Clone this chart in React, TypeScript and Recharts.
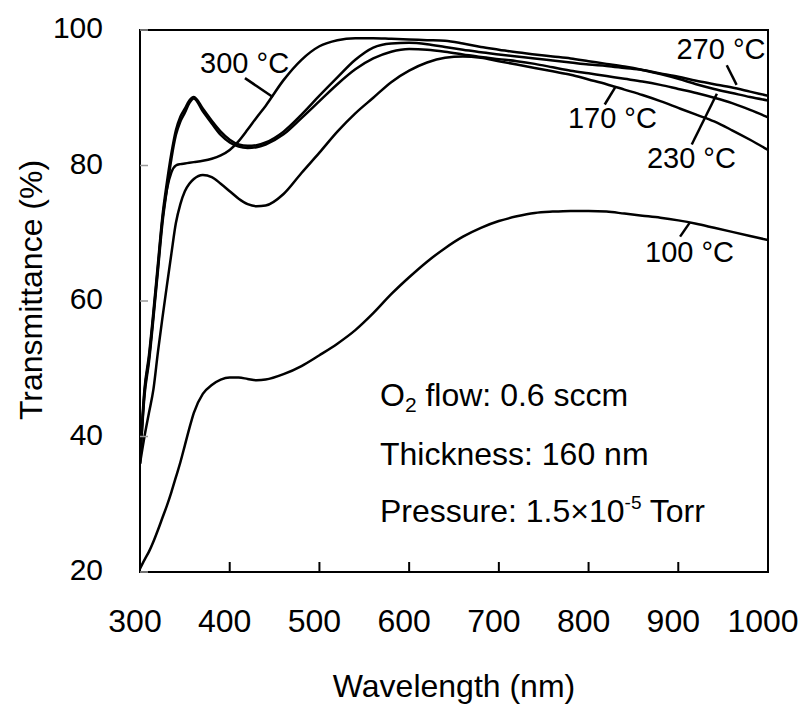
import React from 'react';
import {
  LineChart,
  Line,
  XAxis,
  YAxis,
  ReferenceArea,
  ReferenceLine,
  ReferenceDot
} from 'recharts';

const FONT = '"Liberation Sans", Arial, Helvetica, sans-serif';

// wavelength grid (nm)
const wavelengths = [
  300, 305, 310, 315, 320, 325, 330, 335, 340, 345, 350, 355, 360,
  370, 380, 390, 400, 410, 420, 430, 440,
  460, 480, 500, 520, 540, 560, 580, 600, 620, 640, 660, 680, 700, 720, 740,
  760, 780, 800, 820, 840, 860, 880, 900, 920, 940, 960, 980, 1000
];

// transmittance (%) for each substrate temperature
const t100 = [
  20.5, 21.8, 23.0, 24.5, 26.2, 28.0, 29.8, 31.8, 34.0, 36.2, 38.7, 41.2, 43.5,
  46.3, 47.6, 48.4, 48.7, 48.7, 48.5, 48.3, 48.4,
  49.2, 50.4, 52.0, 53.7, 55.7, 58.2, 61.0, 63.5, 65.8, 67.8, 69.5, 70.8, 71.8, 72.5, 73.0,
  73.2, 73.3, 73.3, 73.2, 72.9, 72.6, 72.3, 71.9, 71.4, 70.8, 70.2, 69.6, 69.0
];
const t170 = [
  36.0, 40.0, 43.5, 47.0, 52.5, 57.5, 62.3, 67.0, 71.5, 74.3, 76.2, 77.3, 78.0,
  78.6, 78.3, 77.3, 76.2, 75.1, 74.3, 74.0, 74.1,
  75.8, 78.9, 81.9, 85.0, 87.7, 90.0, 92.3, 94.0, 95.2, 95.9, 96.1, 95.9, 95.4, 94.9, 94.4,
  93.9, 93.4, 92.7, 92.0, 91.2, 90.4, 89.5, 88.5, 87.5, 86.5, 85.2, 83.8, 82.3
];
const t230 = [
  36.0, 46.0, 51.0, 57.5, 64.5, 71.5, 76.5, 81.0, 84.5, 86.5, 87.8, 89.2, 89.9,
  88.0, 86.2, 84.5, 83.4, 82.8, 82.6, 82.7, 83.1,
  84.6, 87.0, 89.5, 92.0, 94.2, 95.8, 96.8, 97.2, 97.1, 96.8, 96.4, 96.0, 95.7, 95.4, 95.0,
  94.5, 94.0, 93.6, 93.2, 92.8, 92.4, 91.9, 91.3, 90.7, 90.0, 89.2, 88.2, 87.1
];
const t270 = [
  37.0, 47.0, 52.0, 58.5, 65.5, 72.5, 77.5, 81.8, 85.2, 87.2, 88.4, 89.6, 90.1,
  88.4, 86.6, 85.0, 83.8, 83.1, 82.9, 83.0, 83.4,
  85.0, 87.5, 90.3, 93.0, 95.6, 97.4, 98.0, 98.1, 97.9, 97.5, 97.1, 96.7, 96.4, 96.1, 95.8,
  95.5, 95.2, 94.9, 94.7, 94.4, 94.1, 93.6, 93.1, 92.5, 92.0, 91.5, 90.9, 90.3
];
const t300 = [
  36.0, 46.5, 51.5, 58.0, 65.0, 72.0, 76.5, 79.0, 80.0, 80.2, 80.3, 80.4, 80.5,
  80.7, 81.0, 81.5, 82.3, 83.6, 85.3, 87.1, 88.8,
  92.6, 95.6, 97.6, 98.5, 98.8, 98.8, 98.7, 98.6, 98.5, 98.4, 98.0, 97.5, 97.1, 96.7, 96.4,
  96.1, 95.8, 95.4, 95.0, 94.6, 94.1, 93.5, 92.8, 92.0, 91.3, 90.7, 90.1, 89.6
];

const xTicks = [300, 400, 500, 600, 700, 800, 900, 1000];
const yTicks = [20, 40, 60, 80, 100];

const seriesKeys = ['t100', 't170', 't230', 't270', 't300'];

// series labels: text anchor (wl, T) and leader line from -> to
const curveLabels = [
  { text: '300 °C', x: 367, y: 93.7, from: [417, 92.9], to: [448, 90.1] },
  { text: '270 °C', x: 898, y: 95.7, from: [954, 94.8], to: [965, 91.9] },
  { text: '170 °C', x: 777, y: 85.6, from: [818, 89.0], to: [829.5, 91.5] },
  { text: '230 °C', x: 865, y: 79.7, from: [915, 83.1], to: [943, 90.6] },
  { text: '100 °C', x: 863, y: 65.8, from: [902, 69.5], to: [913, 71.6] }
];

const noteX = 567.5;
const noteRows = [44.5, 35.8, 27.4];

const rows = wavelengths.map((wl, i) => ({
  wl,
  t100: t100[i],
  t170: t170[i],
  t230: t230[i],
  t270: t270[i],
  t300: t300[i]
}));

const XTick = (p: any) => {
  const { x, y, payload } = p;
  return (
    <g>
      <line x1={x} y1={y} x2={x} y2={y - 10} stroke="#000" strokeWidth={2} />
      <text x={x - 5} y={y + 60} textAnchor="middle" fontSize={32} fill="#000" fontFamily={FONT}>
        {payload.value}
      </text>
    </g>
  );
};

const YTick = (p: any) => {
  const { x, y, payload } = p;
  return (
    <g>
      <line x1={x} y1={y} x2={x + 8} y2={y} stroke="#999" strokeWidth={1.5} />
      <text x={x - 37} y={y + 8} textAnchor="end" fontSize={30} fill="#000" fontFamily={FONT}>
        {payload.value}
      </text>
    </g>
  );
};

const labelShape = (text: string, size: number) => (p: any) => (
  <text x={p.cx} y={p.cy} fontSize={size} fill="#000" fontFamily={FONT}>
    {text}
  </text>
);

const noteShape = (idx: number) => (p: any) => {
  if (idx === 0) {
    return (
      <text x={p.cx} y={p.cy} fontSize={32} fill="#000" fontFamily={FONT}>
        O<tspan fontSize={21} dy={6}>2</tspan>
        <tspan dy={-6}> flow: 0.6 sccm</tspan>
      </text>
    );
  }
  if (idx === 1) {
    return (
      <text x={p.cx} y={p.cy} fontSize={32} fill="#000" fontFamily={FONT}>
        Thickness: 160 nm
      </text>
    );
  }
  return (
    <text x={p.cx} y={p.cy} fontSize={32} fill="#000" fontFamily={FONT}>
      Pressure: 1.5×10<tspan fontSize={19} dy={-13}>-5</tspan>
      <tspan dy={13}> Torr</tspan>
    </text>
  );
};

export default function App() {
  return (
    <div style={{ position: 'absolute', left: 0, top: 0, width: 808, height: 704, background: '#fff' }}>
      <LineChart
        width={808}
        height={704}
        data={rows}
        margin={{ top: 30, right: 40, bottom: 0, left: 0 }}
      >
        <XAxis
          dataKey="wl"
          type="number"
          domain={[300, 1000]}
          ticks={xTicks}
          height={132}
          tickSize={0}
          tickMargin={0}
          tickLine={false}
          axisLine={{ stroke: '#000', strokeWidth: 2 }}
          tick={XTick}
          interval={0}
          allowDataOverflow
          label={(p: any) => {
            const vb = p.viewBox;
            return (
              <text x={vb.x + vb.width / 2} y={vb.y + 125} textAnchor="middle" fontSize={32} fill="#000" fontFamily={FONT}>
                Wavelength (nm)
              </text>
            );
          }}
        />
        <YAxis
          type="number"
          domain={[20, 100]}
          ticks={yTicks}
          width={140}
          tickSize={0}
          tickMargin={0}
          tickLine={false}
          axisLine={{ stroke: '#000', strokeWidth: 2 }}
          tick={YTick}
          interval={0}
          allowDataOverflow
          label={(p: any) => {
            const vb = p.viewBox;
            const cx = vb.x + 42;
            const cy = vb.y + vb.height / 2 - 11;
            return (
              <text x={cx} y={cy} transform={`rotate(-90 ${cx} ${cy})`} textAnchor="middle" fontSize={32} fill="#000" fontFamily={FONT}>
                Transmittance (%)
              </text>
            );
          }}
        />
        <ReferenceArea x1={300} x2={1000} y1={20} y2={100} fill="none" fillOpacity={0} stroke="#000" strokeWidth={2} />
        {seriesKeys.map((k) => (
          <Line
            key={k}
            dataKey={k}
            type="monotone"
            stroke="#000"
            strokeWidth={2.5}
            dot={false}
            activeDot={false}
            isAnimationActive={false}
          />
        ))}
        {curveLabels.map((c) => (
          <ReferenceLine
            key={c.text + '-lead'}
            segment={[{ x: c.from[0], y: c.from[1] }, { x: c.to[0], y: c.to[1] }]}
            stroke="#000"
            strokeWidth={2.5}
          />
        ))}
        {curveLabels.map((c) => (
          <ReferenceDot key={c.text} x={c.x} y={c.y} r={0} shape={labelShape(c.text, 29)} />
        ))}
        {noteRows.map((y, i) => (
          <ReferenceDot key={'note' + i} x={noteX} y={y} r={0} shape={noteShape(i)} />
        ))}
      </LineChart>
    </div>
  );
}
